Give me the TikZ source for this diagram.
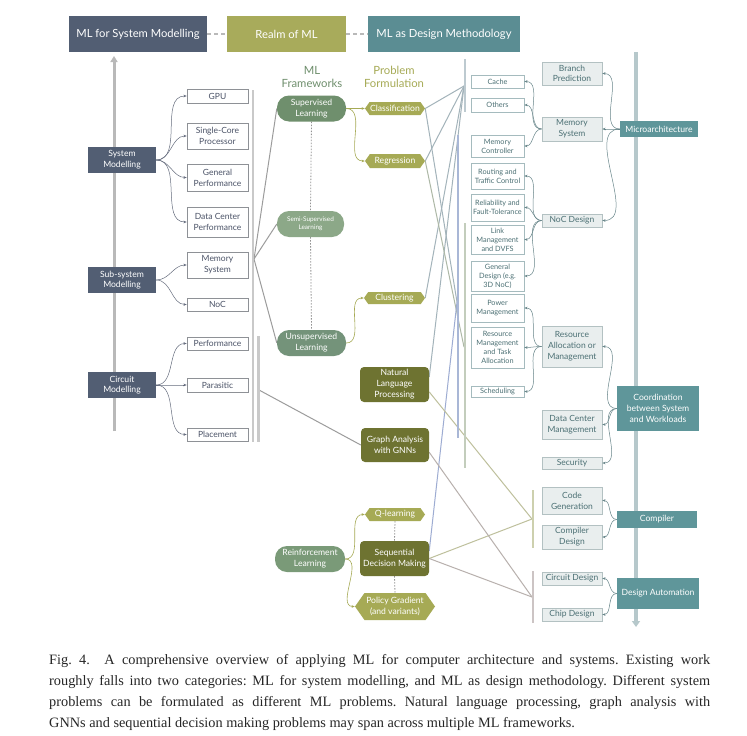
\documentclass[tikz,border=0pt]{standalone}
\usepackage{fontspec}
\setmainfont{Lato}
\newfontfamily\capfont{Liberation Serif}
\usetikzlibrary{arrows.meta,shapes.symbols,backgrounds}
\definecolor{slate}{HTML}{525E73}
\definecolor{oliveh}{HTML}{A8AB5B}
\definecolor{tealh}{HTML}{5B8D93}
\definecolor{tealb}{HTML}{5F969A}
\definecolor{gsup}{HTML}{6F8F6D}
\definecolor{gunsup}{HTML}{74937A}
\definecolor{grl}{HTML}{7A9A78}
\definecolor{gsemi}{HTML}{8CA888}
\definecolor{hexol}{HTML}{A6AA55}
\definecolor{dol}{HTML}{6E7331}
\definecolor{lgfill}{HTML}{E9EEEE}
\definecolor{lgdraw}{HTML}{B3C1C2}
\definecolor{rtext}{HTML}{4C7074}
\definecolor{ltext}{HTML}{4A5266}
\definecolor{lwdraw}{HTML}{8E9196}
\definecolor{rwdraw}{HTML}{A5BBBE}
\definecolor{barl}{HTML}{C9C9C9}
\definecolor{bartop}{HTML}{BDCAD0}
\definecolor{barblue}{HTML}{A9B7D6}
\definecolor{bargreen}{HTML}{C3CDBC}
\definecolor{barcomp}{HTML}{CDD0AE}
\definecolor{barda}{HTML}{CCC4C4}
\definecolor{xgray}{HTML}{9C9C9C}
\definecolor{xtop}{HTML}{A3B3BA}
\definecolor{xgreen}{HTML}{ADB8A6}
\definecolor{xblue}{HTML}{9DACD2}
\definecolor{xcomp}{HTML}{BEC09C}
\definecolor{xda}{HTML}{B8B0AD}
\definecolor{rarrow}{HTML}{B6C8CB}
\tikzset{
  hdr/.style={minimum height=36, inner sep=0pt, text=white, font=\fontsize{11.2}{12}\selectfont},
  hdash/.style={draw=gray!55, line width=1.3pt, dash pattern=on 4pt off 3pt},
  dbox/.style={fill=slate, text=white, minimum width=68, minimum height=26, inner sep=0pt, align=center, font=\fontsize{8.6}{10.7}\selectfont},
  lwbox/.style={draw=lwdraw, line width=0.6pt, fill=white, minimum width=61, inner sep=0pt, align=center, text=ltext, font=\fontsize{8.5}{11}\selectfont},
  mhead/.style={align=center, inner sep=0pt, font=\fontsize{11.3}{13.3}\selectfont},
  pill/.style={rounded corners=12pt, text=white, minimum width=69, minimum height=26, inner sep=0pt, align=center, font=\fontsize{8.6}{11}\selectfont},
  hexn/.style={shape=signal, signal to=east and west, signal pointer angle=110, fill=hexol, text=white, inner sep=0pt, minimum width=60, minimum height=13, align=center, font=\fontsize{8.6}{11}\selectfont},
  dolbox/.style={fill=dol, rounded corners=4pt, text=white, minimum width=69, minimum height=35, inner sep=0pt, align=center, font=\fontsize{8.6}{11}\selectfont},
  rwbox/.style={draw=rwdraw, line width=0.6pt, fill=white, minimum width=53, inner sep=0pt, align=center, text=rtext, font=\fontsize{7.3}{9}\selectfont},
  gbox/.style={draw=lgdraw, line width=0.6pt, fill=lgfill, minimum width=60, inner sep=0pt, align=center, text=rtext, font=\fontsize{8.5}{10.8}\selectfont},
  tbox/.style={fill=tealb, text=white, inner sep=0pt, align=center, font=\fontsize{8.6}{11}\selectfont},
  lconn/.style={draw=ltext!85, line width=0.5pt, -{Stealth[length=3.2pt,width=2.6pt]}},
  oconn/.style={draw=hexol, line width=0.6pt, -{Stealth[length=3.2pt,width=2.6pt]}},
  rconn/.style={draw=rtext!85, line width=0.5pt, -{Stealth[length=3.2pt,width=2.6pt]}},
  dotl/.style={draw=gray!85, line width=0.8pt, dash pattern=on 1.5pt off 1.5pt},
  xline/.style={draw=#1, line width=1pt},
  vbar/.style={draw=#1, line width=2.6pt},
  capn/.style={inner sep=0pt, font=\capfont\frenchspacing\fontsize{14.3}{16}\selectfont, text=black!85}
}
\begin{document}
\begin{tikzpicture}[x=1pt,y=-1pt]
\begin{scope}[on background layer]
\fill[white] (0,0) rectangle (747,736);
\end{scope}
\path[use as bounding box] (0,0) rectangle (747,736);

% headers
\node[hdr, fill=slate, minimum width=138] (h1) at (138,34) {ML for System Modelling};
\node[hdr, fill=oliveh, minimum width=119] (h2) at (286.5,34) {Realm of ML};
\node[hdr, fill=tealh, minimum width=152] (h3) at (444,34) {ML as Design Methodology};
\draw[hdash] (h1) -- (h2);
\draw[hdash] (h2) -- (h3);

% left column
\node[dbox] (sm) at (122,160) {System\\Modelling};
\node[dbox] (ssm) at (122,280) {Sub-system\\Modelling};
\node[dbox] (cm) at (122,385) {Circuit\\Modelling};
\node[lwbox, minimum height=14] (gpu) at (217.5,96) {GPU};
\node[lwbox, minimum height=26] (scp) at (217.5,136) {Single-Core\\Processor};
\node[lwbox, minimum height=27] (gp) at (217.5,177.5) {General\\Performance};
\node[lwbox, minimum height=30] (dcp) at (217.5,222) {Data Center\\Performance};
\node[lwbox, minimum height=26] (lms) at (217.5,265) {Memory\\System};
\node[lwbox, minimum height=13] (lnoc) at (217.5,304.5) {NoC};
\node[lwbox, minimum height=13] (lperf) at (217.5,343.5) {Performance};
\node[lwbox, minimum height=14] (lpar) at (217.5,385) {Parasitic};
\node[lwbox, minimum height=13] (lplace) at (217.5,434.5) {Placement};
\draw[vbar=barl] (253,90) -- (253,442);
\draw[vbar=barl] (258.5,336) -- (258.5,442);
\coordinate (p0) at (254,259);
\coordinate (p0b) at (259,390);

% middle column
\node[mhead, text=gsup] (mlf) at (312,77) {ML\\Frameworks};
\node[mhead, text=hexol] (pf) at (394,77) {Problem\\Formulation};
\node[pill, fill=gsup] (sup) at (311.5,108.5) {Supervised\\Learning};
\node[pill, fill=gsemi, minimum width=67, font=\fontsize{6.4}{8.3}\selectfont] (semi) at (310.5,224) {Semi-Supervised\\Learning};
\node[pill, fill=gunsup] (unsup) at (311.5,343) {Unsupervised\\Learning};
\node[pill, fill=grl, minimum width=70] (rl) at (310,559) {Reinforcement\\Learning};
\node[hexn] (cls) at (395,108.5) {Classification};
\node[hexn, minimum height=14] (reg) at (395,161) {Regression};
\node[hexn, minimum height=12, minimum width=61] (clu) at (394.5,298) {Clustering};
\node[hexn] (ql) at (395,514.5) {Q-learning};
\node[hexn, minimum width=80, minimum height=27] (pg) at (395,606.5) {Policy Gradient\\(and variants)};
\node[dolbox] (nlp) at (394.5,384.5) {Natural\\Language\\Processing};
\node[dolbox, minimum height=34, minimum width=68] (gnn) at (395,445) {Graph Analysis\\with GNNs};
\node[dolbox] (sdm) at (394.5,558.5) {Sequential\\Decision Making};

% right column
\node[tbox, minimum width=78, minimum height=16] (ua) at (659,129) {Microarchitecture};
\node[tbox, minimum width=82, minimum height=45] (coord) at (658,408.5) {Coordination\\between System\\and Workloads};
\node[tbox, minimum width=80, minimum height=17] (comp) at (657,519.5) {Compiler};
\node[tbox, minimum width=82, minimum height=31] (da) at (658,593.5) {Design Automation};

\node[gbox, minimum height=23] (bp) at (572,73.5) {Branch\\Prediction};
\node[gbox, minimum height=24] (ms) at (572,129) {Memory\\System};
\node[gbox, minimum height=13] (noc) at (572,220.5) {NoC Design};
\node[gbox, minimum height=41] (raom) at (572,346.5) {Resource\\Allocation or\\Management};
\node[gbox, minimum height=29] (dcm) at (572,424.5) {Data Center\\Management};
\node[gbox, minimum height=12] (sec) at (572,463) {Security};
\node[gbox, minimum height=27] (cg) at (572,500.5) {Code\\Generation};
\node[gbox, minimum height=24] (cd) at (572,537) {Compiler\\Design};
\node[gbox, minimum height=13] (cird) at (572,578.5) {Circuit Design};
\node[gbox, minimum height=13] (chd) at (572,614.5) {Chip Design};

\node[rwbox, minimum height=13] (cache) at (497.5,81.5) {Cache};
\node[rwbox, minimum height=14] (others) at (497.5,105) {Others};
\node[rwbox, minimum height=22] (mc) at (497.5,146) {Memory\\Controller};
\node[rwbox, minimum height=26] (rtc) at (497.5,176) {Routing and\\Traffic Control};
\node[rwbox, minimum height=27] (rft) at (497.5,207.5) {Reliability and\\Fault-Tolerance};
\node[rwbox, minimum height=29] (lmd) at (497.5,239.5) {Link\\Management\\and DVFS};
\node[rwbox, minimum height=30] (gd) at (497.5,276) {General\\Design (e.g.\\3D NoC)};
\node[rwbox, minimum height=28] (pm) at (497.5,308) {Power\\Management};
\node[rwbox, minimum height=41] (rmta) at (497.5,347.5) {Resource\\Management\\and Task\\Allocation};
\node[rwbox, minimum height=11] (sched) at (497.5,391.5) {Scheduling};

\draw[vbar=bartop] (465,59) -- (465,112);
\draw[vbar=barblue] (458,135) -- (458,438);
\draw[vbar=bargreen] (465,223) -- (465,468);
\draw[vbar=barcomp] (533,490) -- (533,548);
\draw[vbar=barda] (533,571) -- (533,623);
\coordinate (p1) at (464,86);
\coordinate (p2) at (457,302);
\coordinate (p3) at (464,347);
\coordinate (p4) at (532,519);
\coordinate (p5) at (532,597);

\begin{scope}[on background layer]
% main vertical arrows
\draw[draw=gray!55, line width=3pt, -{Triangle[length=6pt,width=7pt]}] (114,431) -- (114,56);
\draw[draw=rarrow, line width=3.5pt, -{Triangle[length=6pt,width=8pt]}] (636,52) -- (636,627);
% dotted framework lines
\draw[dotl] (sup.south) -- (semi.north);
\draw[dotl] (semi.south) -- (unsup.north);
\draw[dotl] (ql.south) -- (sdm.north);
\draw[dotl] (sdm.south) -- (pg.north);
% crossing lines
\draw[xline=xgray] (p0) -- (sup.west);
\draw[xline=xgray] (p0) -- (semi.west);
\draw[xline=xgray] (p0) -- (unsup.west);
\draw[xline=xgray] (p0b) -- (gnn.west);
\draw[xline=xtop] (cls.east) -- (p1);
\draw[xline=xtop] (reg.east) -- (p1);
\draw[xline=xtop] (clu.east) -- (p1);
\draw[xline=xtop] (nlp.12) -- (p1);
\draw[xline=xtop] (cls.east) -- (p2);
\draw[xline=xgreen] (reg.east) -- (p3);
\draw[xline=xblue] (sdm.12) -- (p2);
\draw[xline=xcomp] (nlp.-12) -- (p4);
\draw[xline=xcomp] (sdm.east) -- (p4);
\draw[xline=xda] (gnn.-12) -- (p5);
\draw[xline=xda] (sdm.east) -- (p5);
\end{scope}

% left connectors
\foreach \t in {gpu,scp,gp,dcp} \draw[lconn] (sm.east) to[out=0,in=180] (\t.west);
\foreach \t in {lms,lnoc} \draw[lconn] (ssm.east) to[out=0,in=180] (\t.west);
\foreach \t in {lperf,lpar,lplace} \draw[lconn] (cm.east) to[out=0,in=180] (\t.west);
% middle connectors
\draw[oconn] (sup.east) -- (cls.west);
\draw[oconn] (sup.east) to[out=0,in=180] (reg.west);
\draw[oconn] (unsup.east) to[out=0,in=180] (clu.west);
\draw[oconn] (rl.east) to[out=0,in=180] (ql.west);
\draw[oconn] (rl.east) to[out=0,in=180] (pg.west);
% right connectors
\foreach \t in {bp,ms,noc} \draw[rconn] (ua.west) to[out=180,in=0] (\t.east);
\foreach \t in {cache,others,mc} \draw[rconn] (ms.west) to[out=180,in=0] (\t.east);
\foreach \t in {rtc,rft,lmd,gd} \draw[rconn] (noc.west) to[out=180,in=0] (\t.east);
\foreach \t in {pm,rmta,sched} \draw[rconn] (raom.west) to[out=180,in=0] (\t.east);
\foreach \t in {raom,dcm,sec} \draw[rconn] (coord.west) to[out=180,in=0] (\t.east);
\foreach \t in {cg,cd} \draw[rconn] (comp.west) to[out=180,in=0] (\t.east);
\foreach \t in {cird,chd} \draw[rconn] (da.west) to[out=180,in=0] (\t.east);

% caption
\node[capn, anchor=base west] (c1) at (49,664) {\makebox[661pt][s]{Fig. 4.\ \ A comprehensive overview of applying ML for computer architecture and systems. Existing work}};
\node[capn, anchor=base west] (c2) at (49,685) {\makebox[661pt][s]{roughly falls into two categories: ML for system modelling, and ML as design methodology. Different system}};
\node[capn, anchor=base west] (c3) at (49,706) {\makebox[661pt][s]{problems can be formulated as different ML problems. Natural language processing, graph analysis with}};
\node[capn, anchor=base west] (c4) at (49,727) {GNNs and sequential decision making problems may span across multiple ML frameworks.};
\end{tikzpicture}
\end{document}
